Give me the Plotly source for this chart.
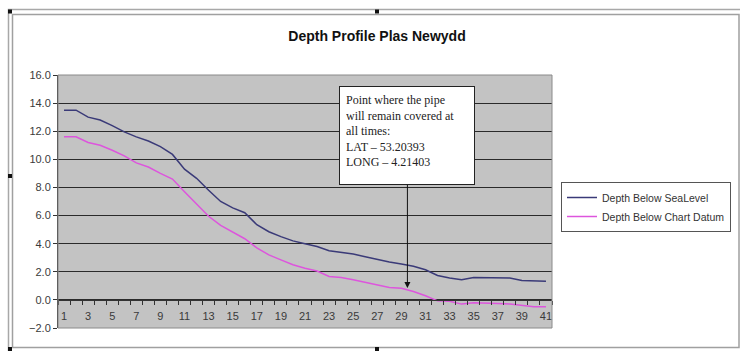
import plotly.graph_objects as go

# ---- data ----
positions = list(range(1, 42))
sea_level = [13.5, 13.5, 13.0, 12.8, 12.4, 11.95, 11.6, 11.3, 10.9, 10.35,
             9.3, 8.65, 7.8, 7.0, 6.55, 6.2, 5.35, 4.85, 4.5, 4.2,
             4.0, 3.8, 3.5, 3.4, 3.26, 3.07, 2.86, 2.69, 2.55, 2.4,
             2.14, 1.74, 1.55, 1.43, 1.6, 1.6, 1.6, 1.55, 1.38, 1.33, 1.33]
chart_datum = [11.6, 11.6, 11.2, 11.0, 10.65, 10.25, 9.75, 9.45, 9.0, 8.6,
               7.7, 6.8, 5.95, 5.3, 4.8, 4.35, 3.7, 3.2, 2.85, 2.5,
               2.25, 2.05, 1.67, 1.6, 1.43, 1.24, 1.02, 0.88, 0.83, 0.6,
               0.29, -0.07, -0.1, -0.3, -0.2, -0.2, -0.25, -0.3, -0.4, -0.48, -0.48]
series_names = ["Depth Below SeaLevel", "Depth Below Chart Datum"]
x_tick_labels = [str(v) for v in range(1, 42, 2)]
y_ticks = [-2, 0, 2, 4, 6, 8, 10, 12, 14, 16]
title_text = "Depth Profile Plas Newydd"
note_lines = ["Point where the pipe", "will remain covered at", "all times:",
              "LAT \u2013 53.20393", "LONG \u2013 4.21403"]
note_point = (29.5, 0.85)

# ---- layout geometry (pixels) ----
W, H = 740, 351
L, R, T, B = 58, 552, 75, 328
pw, ph = R - L, B - T

def px(x):
    return (x - L) / pw

def py(y):
    return (B - y) / ph

fig = go.Figure()
fig.add_trace(go.Scatter(x=positions, y=sea_level, mode="lines", name=series_names[0],
                         line=dict(color="#3a3a78", width=1.5)))
fig.add_trace(go.Scatter(x=positions, y=chart_datum, mode="lines", name=series_names[1],
                         line=dict(color="#dd55dd", width=1.5)))

axis_font = dict(family="Liberation Sans, Arial", size=11, color="#3a3a3a")

fig.update_layout(
    width=W, height=H,
    margin=dict(l=L, r=W - R, t=T, b=H - B, autoexpand=False),
    paper_bgcolor="white",
    plot_bgcolor="#c3c3c3",
    title=dict(text="<b>" + title_text + "</b>", x=377 / W, xref="container", xanchor="center",
               y=1 - 36 / H, yref="container", yanchor="middle",
               font=dict(family="Liberation Sans, Arial", size=14, color="#111")),
    xaxis=dict(range=[0.5, 41.5], anchor="free", position=2 / 18,
               tickvals=list(range(1, 42, 2)), ticktext=x_tick_labels,
               ticks="outside", ticklen=6, tickcolor="rgba(0,0,0,0)",
               minor=dict(tickvals=[i + 0.5 for i in range(0, 42)], ticks="outside",
                          ticklen=4, tickcolor="#333", tickwidth=1),
               showline=True, linecolor="#333", linewidth=1,
               showgrid=False, zeroline=False, tickfont=axis_font, fixedrange=True),
    yaxis=dict(range=[-2, 16], tickvals=y_ticks, tickformat=".1f",
               ticks="outside", ticklen=4, tickcolor="#333",
               showline=True, linecolor="#333", linewidth=1,
               showgrid=True, gridcolor="#2a2a2a", gridwidth=1,
               zeroline=False, tickfont=axis_font, fixedrange=True),
    legend=dict(xref="container", yref="container",
                x=561 / W, y=1 - 182 / H, xanchor="left", yanchor="top",
                bgcolor="white", bordercolor="#555", borderwidth=1,
                font=dict(family="Liberation Sans, Arial", size=10.5, color="#333"),
                itemwidth=30, tracegroupgap=0),
    showlegend=True,
)

# annotation box with arrow
fig.add_annotation(
    x=note_point[0], y=note_point[1], xref="x", yref="y",
    text="<br>".join(note_lines), align="left", valign="top",
    showarrow=True, arrowhead=2, arrowsize=1.2, arrowwidth=1, arrowcolor="#111",
    ax=0, ay=-152,
    width=122, height=85, borderpad=6,
    bgcolor="white", bordercolor="#222", borderwidth=1,
    font=dict(family="Liberation Serif, Times New Roman", size=12, color="#222"),
)

shapes = []
# plot area border
shapes.append(dict(type="rect", xref="paper", yref="paper", x0=0, x1=1, y0=0, y1=1,
                   line=dict(color="#8a8a8a", width=1)))
# outer frame (double line)
shapes.append(dict(type="rect", xref="paper", yref="paper",
                   x0=px(8.5), x1=px(745), y0=py(355), y1=py(9.5),
                   line=dict(color="#a8a8a8", width=1.5)))
shapes.append(dict(type="rect", xref="paper", yref="paper",
                   x0=px(12.5), x1=px(739), y0=py(347.5), y1=py(14.5),
                   line=dict(color="#a0a0a0", width=1.5)))
# selection handles
for hx, hy in [(10, 11.5), (377, 11.5), (10, 176), (377, 349), (10, 349)]:
    shapes.append(dict(type="rect", xref="paper", yref="paper",
                       x0=px(hx - 2), x1=px(hx + 2), y0=py(hy + 2), y1=py(hy - 2),
                       fillcolor="#111", line=dict(width=0)))
fig.update_layout(shapes=shapes)

fig.write_html("out.html")
